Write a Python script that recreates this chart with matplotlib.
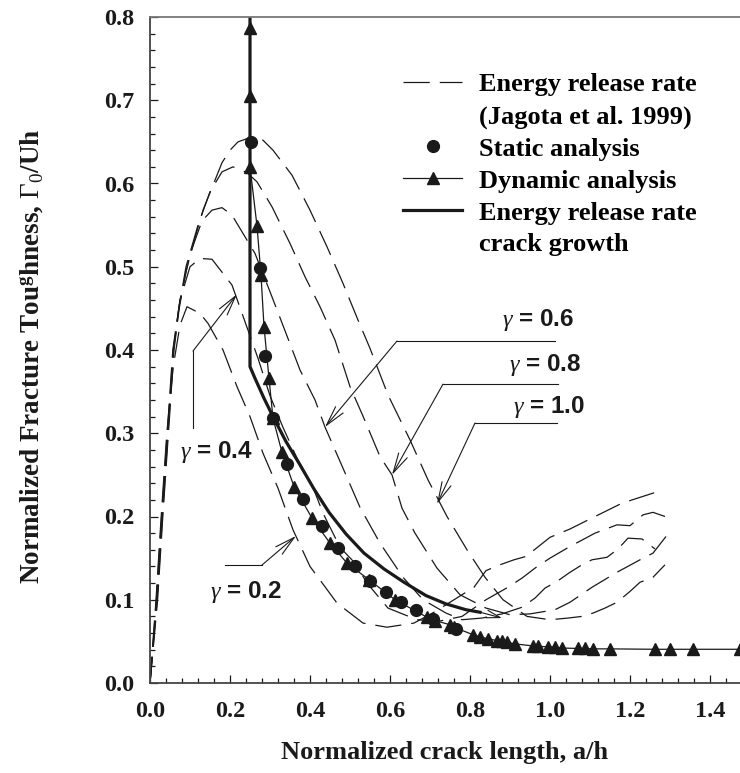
import numpy as np
import matplotlib
matplotlib.use("Agg")
import matplotlib.pyplot as plt
from matplotlib.lines import Line2D
from matplotlib.font_manager import FontProperties

plt.rcParams['mathtext.fontset'] = 'custom'
plt.rcParams['mathtext.rm'] = 'Liberation Serif'
plt.rcParams['mathtext.it'] = 'Liberation Serif:italic'
plt.rcParams['mathtext.bf'] = 'Liberation Serif:bold'

# --- Energy release rate curves (Jagota et al. 1999) ---
g02_x = [0.0, 0.015, 0.028, 0.042, 0.058, 0.075, 0.0925, 0.125, 0.145, 0.1825, 0.2175, 0.25,
         0.2825, 0.32, 0.3575, 0.40, 0.4675, 0.5325, 0.5925, 0.66, 0.71, 0.76, 0.81, 0.84,
         0.875, 0.91, 0.94, 1.0, 1.05, 1.1, 1.18, 1.27]
g02_y = [0.0, 0.1, 0.2, 0.3, 0.38, 0.43, 0.452, 0.444, 0.432, 0.40, 0.356, 0.32,
         0.276, 0.234, 0.184, 0.14, 0.096, 0.072, 0.067, 0.072, 0.085, 0.10, 0.115, 0.135,
         0.142, 0.148, 0.152, 0.175, 0.185, 0.197, 0.216, 0.23]

g04_x = [0.0, 0.016, 0.029, 0.043, 0.057, 0.075, 0.10, 0.125, 0.155, 0.205, 0.2375, 0.27,
         0.30, 0.3325, 0.3675, 0.4075, 0.4325, 0.475, 0.5125, 0.5425, 0.595, 0.6675, 0.72,
         0.78, 0.84, 0.895, 0.93, 0.9625, 1.0, 1.05, 1.1125, 1.1675, 1.2, 1.2325, 1.2575, 1.2875]
g04_y = [0.0, 0.1, 0.2, 0.3, 0.4, 0.46, 0.50, 0.51, 0.509, 0.478, 0.434, 0.39,
         0.345, 0.307, 0.27, 0.235, 0.204, 0.163, 0.144, 0.12, 0.09, 0.076, 0.074,
         0.08, 0.10, 0.115, 0.126, 0.138, 0.15, 0.164, 0.18, 0.19, 0.189, 0.202, 0.205, 0.20]

g06_x = [0.0, 0.017, 0.03, 0.044, 0.058, 0.075, 0.10, 0.13, 0.155, 0.18, 0.205, 0.22, 0.2625,
         0.30, 0.34, 0.375, 0.4125, 0.4375, 0.4825, 0.525, 0.575, 0.6325, 0.6825, 0.74, 0.78,
         0.83, 0.88, 0.93, 0.9625, 0.9875, 1.0175, 1.05, 1.08, 1.105, 1.1425, 1.17, 1.195,
         1.23, 1.2625]
g06_y = [0.0, 0.1, 0.2, 0.3, 0.4, 0.46, 0.515, 0.555, 0.568, 0.571, 0.562, 0.55, 0.516,
         0.47, 0.42, 0.376, 0.34, 0.3075, 0.258, 0.211, 0.168, 0.127, 0.10, 0.084, 0.076,
         0.078, 0.083, 0.091, 0.102, 0.114, 0.122, 0.133, 0.142, 0.148, 0.151, 0.161, 0.174,
         0.173, 0.161]

g08_x = [0.0, 0.018, 0.031, 0.045, 0.059, 0.072, 0.09, 0.12, 0.15, 0.18, 0.2075, 0.2425,
         0.2675, 0.305, 0.35, 0.3875, 0.425, 0.4625, 0.50, 0.533, 0.575, 0.605, 0.63, 0.6625,
         0.7175, 0.775, 0.84, 0.90, 0.95, 1.0125, 1.05, 1.105, 1.1675, 1.225, 1.2575, 1.29]
g08_y = [0.0, 0.1, 0.2, 0.3, 0.4, 0.45, 0.50, 0.55, 0.59, 0.614, 0.62, 0.613,
         0.602, 0.572, 0.528, 0.488, 0.452, 0.412, 0.356, 0.32, 0.272, 0.25, 0.21, 0.18,
         0.138, 0.106, 0.09, 0.082, 0.083, 0.088, 0.097, 0.115, 0.133, 0.148, 0.156, 0.176]

g10_x = [0.0, 0.019, 0.032, 0.046, 0.06, 0.073, 0.09, 0.11, 0.1325, 0.155, 0.18, 0.20, 0.22,
         0.255, 0.2825, 0.3075, 0.355, 0.40, 0.4425, 0.4825, 0.52, 0.55, 0.595, 0.65, 0.695,
         0.7425, 0.7925, 0.8375, 0.8825, 0.9425, 1.0, 1.045, 1.08, 1.1075, 1.1375, 1.1675,
         1.20, 1.225, 1.2575, 1.2875]
g10_y = [0.0, 0.1, 0.2, 0.3, 0.4, 0.45, 0.495, 0.53, 0.568, 0.595, 0.625, 0.64, 0.65,
         0.656, 0.652, 0.64, 0.61, 0.568, 0.524, 0.48, 0.436, 0.402, 0.346, 0.292, 0.244,
         0.20, 0.16, 0.127, 0.10, 0.08, 0.076, 0.078, 0.08, 0.084, 0.09, 0.097,
         0.11, 0.121, 0.127, 0.142]

# --- Static analysis (circles) ---
static_x = [0.2525, 0.275, 0.2875, 0.3075, 0.3425, 0.3825, 0.43, 0.47, 0.5125, 0.55, 0.59,
            0.6275, 0.665, 0.7075, 0.765]
static_y = [0.65, 0.498, 0.393, 0.318, 0.263, 0.221, 0.188, 0.162, 0.14, 0.1225, 0.109,
            0.097, 0.0877, 0.0766, 0.065]

# --- Dynamic analysis (triangles) ---
dyn_x = [0.25, 0.25, 0.25, 0.2675, 0.2775, 0.285, 0.2975, 0.3075, 0.33, 0.36, 0.405, 0.45,
         0.4925, 0.5475, 0.6125, 0.6925, 0.7125, 0.75, 0.76, 0.8075, 0.825, 0.845, 0.8675,
         0.88, 0.8925, 0.9125, 0.9575, 0.97, 0.995, 1.0125, 1.03, 1.07, 1.0875, 1.1075, 1.15,
         1.2625, 1.30, 1.3575, 1.475]
dyn_y = [0.787, 0.705, 0.62, 0.549, 0.49, 0.428, 0.366, 0.318, 0.277, 0.236, 0.198, 0.168,
         0.144, 0.124, 0.10, 0.079, 0.075, 0.07, 0.067, 0.058, 0.0555, 0.053, 0.051,
         0.05, 0.049, 0.047, 0.0445, 0.044, 0.0435, 0.043, 0.042, 0.0415, 0.0415, 0.041, 0.041,
         0.0405, 0.0405, 0.0405, 0.0405]

# --- Energy release rate crack growth (thick line) ---
crack_x = [0.25, 0.25, 0.2625, 0.285, 0.3075, 0.34, 0.375, 0.41, 0.4475, 0.49, 0.535, 0.585,
           0.635, 0.69, 0.74, 0.79, 0.825]
crack_y = [0.85, 0.38, 0.366, 0.342, 0.32, 0.29, 0.262, 0.233, 0.205, 0.179, 0.156, 0.137,
           0.121, 0.105, 0.095, 0.088, 0.085]

gamma_labels = ['\u03b3 = 0.2', '\u03b3 = 0.4', '\u03b3 = 0.6', '\u03b3 = 0.8', '\u03b3 = 1.0']

ink = '#1a1a1a'
dash = (21, 8)

fig = plt.figure(figsize=(7.4, 7.73), dpi=100)
ax = fig.add_axes([150 / 740, 90 / 773, 590 / 740, 666 / 773])

for cx, cy in [(g02_x, g02_y), (g04_x, g04_y), (g06_x, g06_y), (g08_x, g08_y), (g10_x, g10_y)]:
    ax.plot(cx, cy, color=ink, lw=0.9, dashes=dash)

ax.plot(crack_x, crack_y, color=ink, lw=2.3, solid_joinstyle='round')
ax.annotate('', xy=(0.88, 0.078), xytext=(0.81, 0.087),
            arrowprops=dict(arrowstyle='->,head_length=0.7,head_width=0.2', color=ink, lw=0.8,
                            mutation_scale=14, shrinkA=0, shrinkB=0))
ax.plot(dyn_x, dyn_y, color=ink, lw=0.9, marker='^', ms=9, mec=ink, mfc=ink)
ax.plot(static_x, static_y, ls='none', marker='o', ms=8.5, mec=ink, mfc=ink)

# gamma labels with leader lines
arw = dict(arrowstyle='->,head_length=0.9,head_width=0.22', color=ink, lw=0.8,
           mutation_scale=16, shrinkA=0, shrinkB=0)
gfont = dict(family='Liberation Sans', weight='bold', size=17.5, color=ink)

def leader(label, tx, ty, path, tip, ha='right'):
    px = [p[0] for p in path]
    py = [p[1] for p in path]
    ax.plot(px, py, color=ink, lw=0.8)
    ax.annotate('', xy=tip, xytext=path[-1], arrowprops=arw)
    ax.text(tx, ty, label.replace('\u03b3', r'$\gamma$'), ha=ha, va='center', **gfont)

leader(gamma_labels[2], 1.06, 0.436, [(1.0125, 0.4108), (0.6175, 0.4108)], (0.4375, 0.3075))
leader(gamma_labels[3], 1.077, 0.382, [(1.02, 0.359), (0.7325, 0.359)], (0.605, 0.25))
leader(gamma_labels[4], 1.088, 0.3315, [(1.0175, 0.3123), (0.8125, 0.3123)], (0.7175, 0.215))
leader(gamma_labels[1], 0.165, 0.2775, [(0.1075, 0.3063), (0.1075, 0.3988)], (0.2175, 0.467),
       ha='center')
leader(gamma_labels[0], 0.24, 0.1093, [(0.1875, 0.1417), (0.28, 0.1417)], (0.365, 0.1766),
       ha='center')

# legend
h_energy = Line2D([], [], color=ink, lw=0.9, dashes=dash)
blank = Line2D([], [], ls='none')
h_static = Line2D([], [], ls='none', marker='o', ms=8.5, color=ink)
h_dyn = Line2D([], [], color=ink, lw=0.9, marker='^', ms=9)
h_crack = Line2D([], [], color=ink, lw=2.3)
ax.legend([h_energy, blank, h_static, h_dyn, h_crack, blank],
          ['Energy release rate', '(Jagota et al. 1999)', 'Static analysis',
           'Dynamic analysis', 'Energy release rate', 'crack growth'],
          loc='upper left', bbox_to_anchor=(0.429, 0.916), frameon=False, numpoints=1,
          prop=FontProperties(family='Liberation Serif', weight='bold', size=19),
          handlelength=2.24, handletextpad=0.64, labelspacing=0.32,
          borderpad=0, borderaxespad=0)

ax.set_xlim(0, 1.475)
ax.set_ylim(0, 0.8)
ax.set_xticks(np.arange(0, 1.41, 0.2))
ax.set_xticks(np.arange(0, 1.47, 0.04), minor=True)
ax.set_yticks(np.arange(0, 0.81, 0.1))
ax.set_yticks(np.arange(0, 0.81, 0.02), minor=True)
ax.xaxis.set_major_formatter(matplotlib.ticker.FormatStrFormatter('%.1f'))
ax.yaxis.set_major_formatter(matplotlib.ticker.FormatStrFormatter('%.1f'))
ax.tick_params(which='both', direction='in', top=False, right=False, color=ink, width=0.9)
ax.tick_params(which='major', length=6)
ax.tick_params(which='minor', length=3.5)
ax.tick_params(axis='x', pad=13)
ax.tick_params(axis='y', pad=11)
for lab in ax.get_xticklabels() + ax.get_yticklabels():
    lab.set_fontfamily('Liberation Serif')
    lab.set_fontweight('bold')
    lab.set_fontsize(17.5)
    lab.set_color(ink)

ax.spines['right'].set_visible(False)
ax.spines['top'].set_color('#777777')
ax.spines['top'].set_linewidth(1.3)
for s in ['left', 'bottom']:
    ax.spines[s].set_color('#444444')
    ax.spines[s].set_linewidth(1.3)

ax.set_xlabel('Normalized crack length, a/h', family='Liberation Serif', weight='bold',
              size=19, color=ink, labelpad=14)
ax.set_ylabel(r'Normalized Fracture Tou$^{\mathbf{g}}$hness, $\Gamma_0$/Uh',
              family='Liberation Serif', weight='bold', size=19.5, color=ink)
ax.yaxis.set_label_coords(-(150 - 46) / 590, 0.49)

fig.savefig('out.png', dpi=100)
